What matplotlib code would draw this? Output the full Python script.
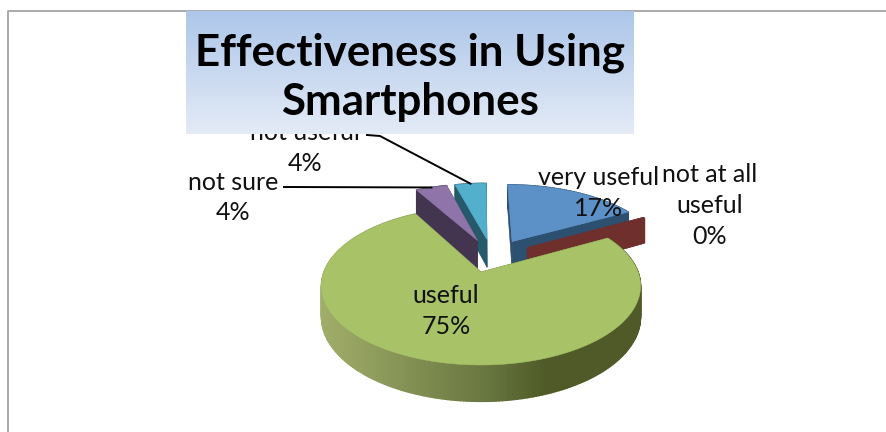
import numpy as np
import matplotlib
matplotlib.use("Agg")
import matplotlib.pyplot as plt
from matplotlib.colors import LinearSegmentedColormap, to_rgb
from matplotlib.patches import Polygon

plt.rcParams['font.family'] = ['Lato', 'DejaVu Sans']

title = "Effectiveness in Using\nSmartphones"
categories = ["very useful", "not at all\nuseful", "useful", "not sure", "not useful"]
percents = [17, 0, 75, 4, 4]
top_colors = ["#5b91c6", "#7a3230", "#a7c267", "#8f74a9", "#52b0cd"]
side_colors = ["#2d4f70", "#6f2f2d", "#4f5a28", "#43344f", "#26596a"]

# perspective of the pie plane, in pixels
ORIGIN_X, ORIGIN_Y = 481, 272
SCALE_X, SCALE_Y = 157, 76.5
PERSPECTIVE = 0.177
DEPTH = 30
EXPLODE_V, EXPLODE_U = 0.27, 0.235
REF_SLICE = 2  # the largest slice sits at the projection origin


def project(v, u, drop=0.0):
    """Pie plane (v right, u away from viewer) to pixel coordinates."""
    s = 1 + PERSPECTIVE * u
    return ORIGIN_X + SCALE_X * v / s, ORIGIN_Y - SCALE_Y * u / s + drop * DEPTH / s


def slice_angles(values):
    edges = np.cumsum([0] + list(values)) / sum(values) * 2 * np.pi
    return edges[:-1], edges[1:]


def slice_apex(start, end, ref_mid):
    mid = (start + end) / 2
    return (EXPLODE_V * (np.sin(mid) - np.sin(ref_mid)),
            EXPLODE_U * (np.cos(mid) - np.cos(ref_mid)))


def lerp_green(x):
    # rim of the big slice gets darker towards the right
    light, mid, dark = map(np.array, (to_rgb("#a1ae6a"), to_rgb("#6c7a42"), to_rgb("#4f5a28")))
    t = np.clip((x - 320) / (545 - 320), 0, 1)
    return tuple(light + (mid - light) * t / 0.7) if t < 0.7 else tuple(mid + (dark - mid) * (t - 0.7) / 0.3)


def draw_slice(ax, start, end, apex, top, side, z, shaded=False):
    theta = np.linspace(start, end, max(2, int((end - start) * 60)))
    v = apex[0] + np.sin(theta)
    u = apex[1] + np.cos(theta)

    # the two cut faces
    for i in (0, -1):
        face = [project(*apex), project(v[i], u[i]), project(v[i], u[i], 1), project(*apex, 1)]
        ax.add_patch(Polygon(face, fc=side, ec=side, lw=0.4, zorder=z))

    # outer rim, one facet per step
    for i in range(len(theta) - 1):
        a, b = project(v[i], u[i]), project(v[i + 1], u[i + 1])
        c, d = project(v[i + 1], u[i + 1], 1), project(v[i], u[i], 1)
        col = lerp_green((a[0] + b[0]) / 2) if shaded else side
        ax.add_patch(Polygon([a, b, c, d], fc=col, ec=col, lw=1.0, zorder=z + 0.1))

    if end > start:
        outline = [project(*apex)] + [project(p, q) for p, q in zip(v, u)]
        ax.add_patch(Polygon(outline, fc=top, ec=top, lw=0.4, zorder=z + 0.2))


fig = plt.figure(figsize=(8.86, 4.32), dpi=100)
ax = fig.add_axes([0, 0, 1, 1])
ax.set_xlim(0, 886)
ax.set_ylim(432, 0)
ax.axis("off")

# chart frame
ax.plot([8, 8, 886], [432, 10.5, 10.5], color="#a3a3a3", lw=1.3, zorder=1)

starts, ends = slice_angles(percents)
ref_mid = (starts[REF_SLICE] + ends[REF_SLICE]) / 2
apexes = [slice_apex(s, e, ref_mid) for s, e in zip(starts, ends)]

# back slices first so the front ones paint over them
for z, i in enumerate([4, 3, 0, 1, 2]):
    draw_slice(ax, starts[i], ends[i], apexes[i], top_colors[i], side_colors[i],
               2 + z, shaded=(i == REF_SLICE))

# leader lines run to the middle of the slice rim
for i, tail in ((3, [(284, 187)]), (4, [(367, 135), (380, 136)])):
    mid = (starts[i] + ends[i]) / 2
    end = project(apexes[i][0] + np.sin(mid), apexes[i][1] + np.cos(mid))
    xs, ys = zip(*(tail + [end]))
    ax.plot(xs, ys, color="black", lw=1.4, zorder=8)

labels = [f"{c}\n{p}%" for c, p in zip(categories, percents)]
label_pos = [(598.5, 193), (709.5, 205.5), (446, 311), (233, 197.5), (305, 148)]
for text, (x, y) in zip(labels, label_pos):
    ax.text(x, y, text, ha="center", va="center", fontsize=18, linespacing=1.4,
            color="#111111", zorder=9)

# title box with a vertical gradient, it sits on top of the labels
cmap = LinearSegmentedColormap.from_list("title_fill", ["#adc6e9", "#e4ebf7"])
ax.imshow(np.linspace(0, 1, 128).reshape(-1, 1), cmap=cmap, extent=(186, 634, 134, 11),
          aspect="auto", zorder=10)
ax.set_xlim(0, 886)
ax.set_ylim(432, 0)
ax.text(410, 77, title, ha="center", va="center", fontsize=31.6, fontweight="bold",
        linespacing=1.27, color="black", zorder=11)

fig.savefig("out.png", dpi=100)
plt.close(fig)
